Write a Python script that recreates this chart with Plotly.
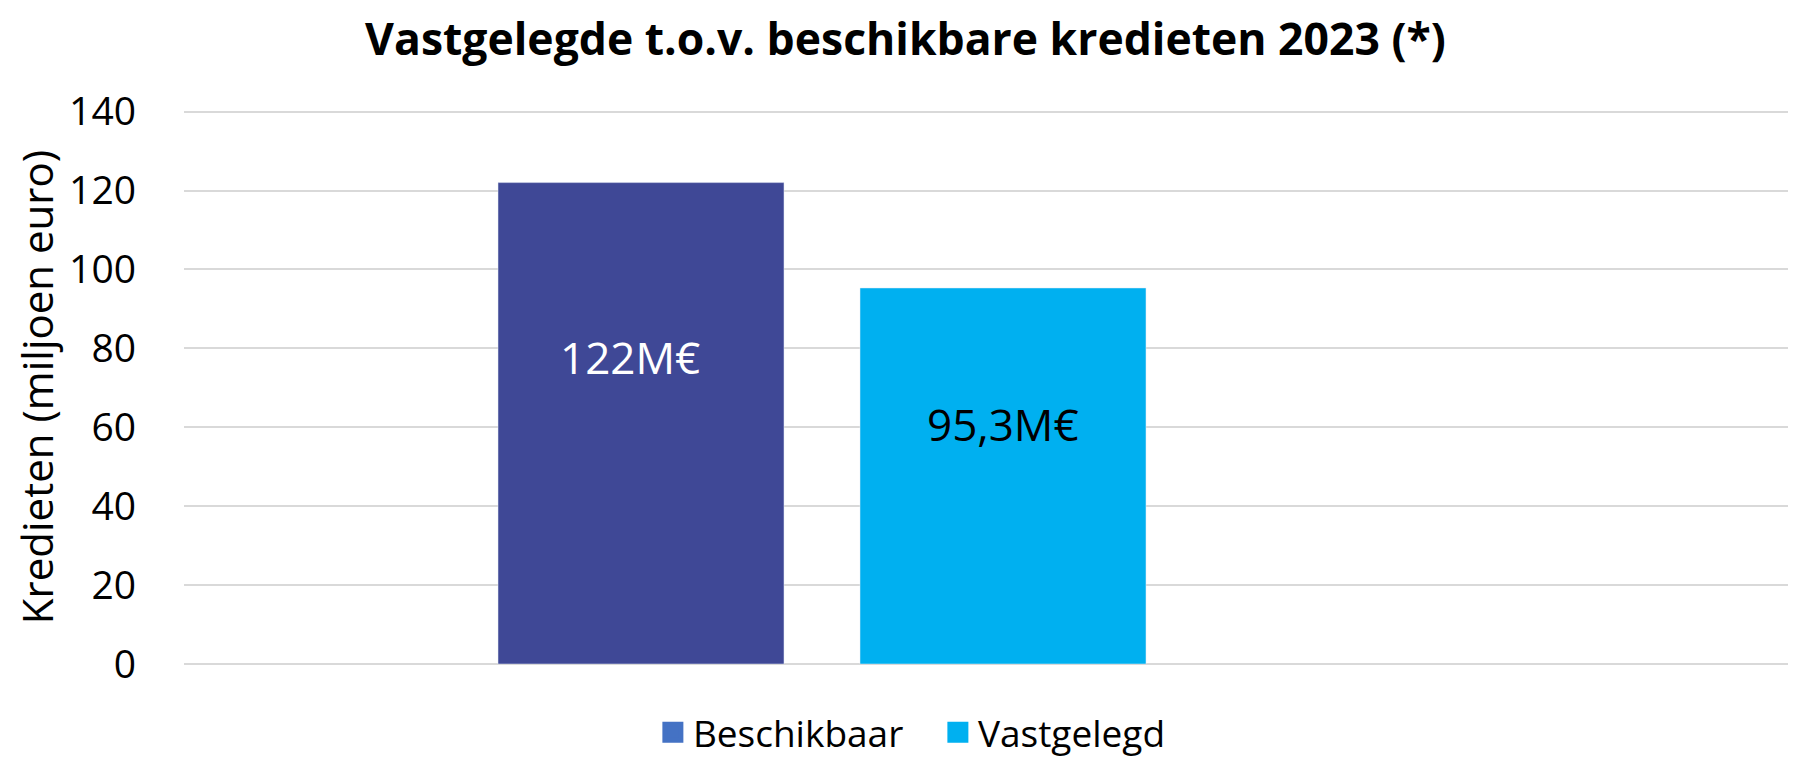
import plotly.graph_objects as go

categories = ["2023"]
series_names = ["Beschikbaar", "Vastgelegd"]
beschikbaar = [122]
vastgelegd = [95.3]
labels = ["122M€", "95,3M€"]
bar_colors = ["#3F4896", "#00B0F0"]
legend_colors = ["#4472C4", "#00B0F0"]
label_colors = ["white", "black"]
label_xshift = [-11, 0]

FONT = "Open Sans"
W, H = 1795, 751  # page adds an 8px body margin

fig = go.Figure()
values = [beschikbaar, vastgelegd]
for name, vals, col in zip(series_names, values, bar_colors):
    fig.add_trace(go.Bar(x=[0], y=vals, name=name, marker_color=col,
                         showlegend=False, offsetgroup=name))
for name, col in zip(series_names, legend_colors):
    fig.add_trace(go.Scatter(x=[None], y=[None], mode="markers", name=name,
                             marker=dict(symbol="square", size=16, color=col,
                                         line=dict(color=col, width=5))))

# data labels as annotations (placed at ~64% of bar height, like the original)
slot = 0.362
for i, (vals, txt, lc, xs) in enumerate(zip(values, labels, label_colors, label_xshift)):
    xc = -slot / 2 if i == 0 else slot / 2
    fig.add_annotation(x=xc, y=vals[0] * 0.637, text=txt, showarrow=False,
                       font=dict(family=FONT, size=44, color=lc),
                       xref="x", yref="y", xshift=xs)

fig.update_layout(
    width=W, height=H,
    paper_bgcolor="white", plot_bgcolor="white",
    margin=dict(l=176, r=15, t=102, b=95, autoexpand=False),
    barmode="group", bargap=0.276, bargroupgap=0.21,
    title=dict(text="<b>Vastgelegde t.o.v. beschikbare kredieten 2023 (*)</b>",
               x=0.5, xref="container", xanchor="center",
               y=1 - 31 / H, yanchor="middle",
               font=dict(family=FONT, size=44.5, color="black")),
    legend=dict(orientation="h", x=0.47, xanchor="center", y=-0.1238, yanchor="middle",
                font=dict(family=FONT, size=37, color="black"),
                itemwidth=30, entrywidth=240, tracegroupgap=0),
    showlegend=True,
)
fig.update_xaxes(range=[-0.638, 0.966], showticklabels=False, showgrid=False,
                 zeroline=False, showline=False, type="linear")
fig.update_yaxes(range=[0, 140.4], tickvals=[0, 20, 40, 60, 80, 100, 120, 140],
                 showgrid=True, gridcolor="#D9D9D9", gridwidth=1.5,
                 zeroline=True, zerolinecolor="#D9D9D9", zerolinewidth=1.5,
                 ticklabelstandoff=47, tickfont=dict(family=FONT, size=39, color="black"),
                 title=dict(text="Kredieten (miljoen euro)", standoff=16,
                            font=dict(family=FONT, size=42, color="black")))

fig.write_html("out.html")
